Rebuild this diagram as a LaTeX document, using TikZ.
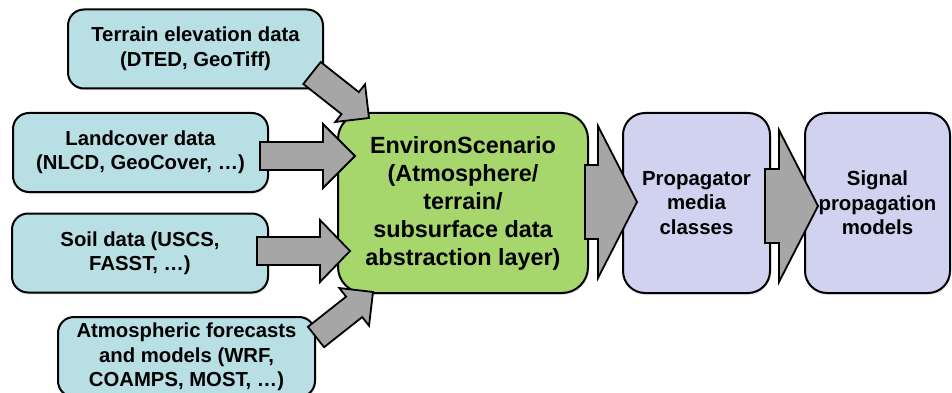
\documentclass[tikz,border=0pt]{standalone}
\usepackage{fontspec}
\setmainfont{Liberation Sans}
\usetikzlibrary{calc,shadows}
\definecolor{inblue}{RGB}{184,223,228}
\definecolor{envgreen}{RGB}{166,214,108}
\definecolor{proppurple}{RGB}{209,209,240}
\definecolor{arrgrey}{RGB}{166,166,166}
\newcommand\blockarrow[5]{%
  \coordinate (ba-h) at ($(#2)!#5!(#1)$);
  \draw[blockarr] ($(#1)!#3!90:(#2)$) -- ($(ba-h)!#3!90:(#2)$) -- ($(ba-h)!#4!90:(#2)$) -- (#2)
    -- ($(ba-h)!#4!-90:(#2)$) -- ($(ba-h)!#3!-90:(#2)$) -- ($(#1)!#3!-90:(#2)$) -- cycle;}
\tikzset{
  boxbase/.style={draw=black, line width=2pt, rectangle, align=center, inner sep=0pt, outer sep=0pt,
    font=\bfseries, drop shadow={opacity=0.18, shadow xshift=1pt, shadow yshift=-2pt}},
  inbox/.style={boxbase, fill=inblue, rounded corners=16pt, minimum width=#1, minimum height=79pt,
    font=\bfseries\fontsize{20.3pt}{24.5pt}\selectfont},
  envbox/.style={boxbase, fill=envgreen, rounded corners=26pt, minimum width=250pt, minimum height=180pt,
    font=\bfseries\fontsize{23.4pt}{28pt}\selectfont},
  propbox/.style={boxbase, fill=proppurple, rounded corners=22pt, minimum width=#1, minimum height=180pt,
    font=\bfseries\fontsize{20.4pt}{24.3pt}\selectfont},
  blockarr/.style={draw=black, fill=arrgrey, line width=1.8pt, line join=miter}
}
\begin{document}
\begin{tikzpicture}[x=1pt, y=-1pt]
\useasboundingbox (0,0) rectangle (952,393);
\clip (0,0) rectangle (952,393);
% boxes
\node[inbox=255pt] (terrain) at (195.5,49) {Terrain elevation data\\(DTED, GeoTiff)};
\node[inbox=255pt] (land) at (140.5,152.5) {Landcover data\\(NLCD, GeoCover, …)};
\node[inbox=256pt] (soil) at (140,253) {Soil data (USCS,\\FASST, …)};
\node[inbox=257pt, minimum height=80pt] (atmos) at (186.5,357) {Atmospheric forecasts\\and models (WRF,\\COAMPS, MOST, …)};
\node[envbox] (env) at (463,203) {EnvironScenario\\(Atmosphere/\\terrain/\\subsurface data\\abstraction layer)};
\node[propbox=147pt] (prop) at (696.5,203) {Propagator\\media\\classes};
\node[propbox=145pt] (sig) at (877.5,203) {Signal\\propagation\\models};
% arrow end points
\coordinate (a1s) at (312,73);  \coordinate (a1t) at (369,118);
\coordinate (a2s) at (260,156); \coordinate (a2t) at (355,156);
\coordinate (a3s) at (257,251); \coordinate (a3t) at (350,251);
\coordinate (a4s) at (316,337); \coordinate (a4t) at (373,292);
\coordinate (a5s) at (585,202); \coordinate (a5t) at (637,202);
\coordinate (a6s) at (765,206); \coordinate (a6t) at (818,206);
% block arrows
\blockarrow{a1s}{a1t}{14pt}{24pt}{24pt}
\blockarrow{a2s}{a2t}{14pt}{32pt}{32pt}
\blockarrow{a3s}{a3t}{14pt}{31pt}{30pt}
\blockarrow{a4s}{a4t}{13pt}{24pt}{24pt}
\blockarrow{a5s}{a5t}{37pt}{76pt}{39pt}
\blockarrow{a6s}{a6t}{37pt}{76pt}{39pt}
\end{tikzpicture}
\end{document}
